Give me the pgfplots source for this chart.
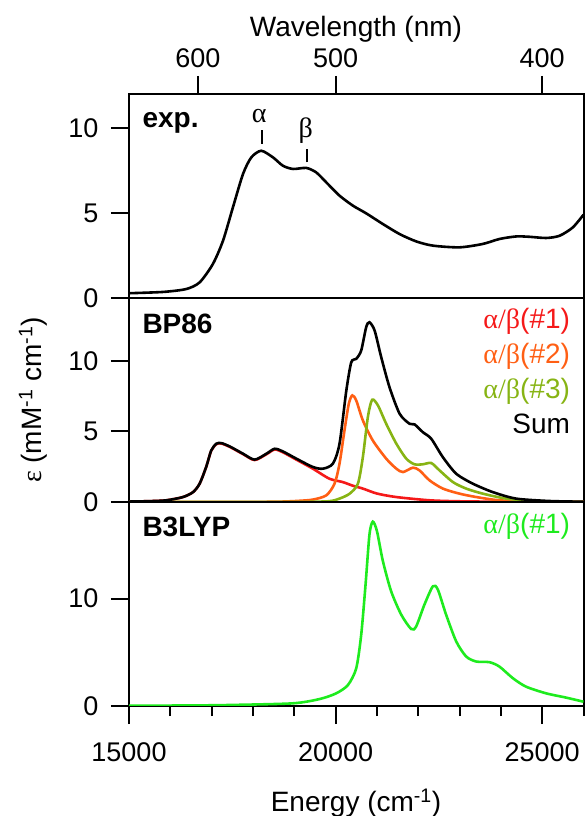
\documentclass[border=0pt]{standalone}
\usepackage{fontspec}
\setmainfont{Liberation Sans}
\newfontfamily\grk{Liberation Serif}
\usepackage{pgfplots}
\usepackage{pgfplotstable}
\pgfplotsset{compat=1.18}

\definecolor{cred}{RGB}{245,25,25}
\definecolor{corange}{RGB}{255,95,20}
\definecolor{colive}{RGB}{135,180,20}
\definecolor{cgreen}{RGB}{30,235,30}

\newcommand\tfs{\fontsize{27bp}{32bp}\selectfont}
\newcommand\lfs{\fontsize{28bp}{33bp}\selectfont}

\pgfplotstableread{
E y
15000 0.28
15500 0.32
15900 0.37
16390 0.53
16710 0.92
17030 2.0
17275 3.37
17515 5.33
17760 7.3
17960 8.27
18200 8.66
18485 8.27
18725 7.78
18970 7.59
19290 7.65
19530 7.39
19775 6.8
20095 6.02
20420 5.43
20740 4.98
21145 4.35
21550 3.76
21950 3.33
22355 3.08
23000 2.98
23565 3.18
23965 3.47
24370 3.62
24690 3.6
25095 3.53
25420 3.66
25740 4.15
26000 4.9
}\expdata

\pgfplotstableread{
E y
15000 0.03
15500 0.06
15905 0.12
16305 0.35
16550 0.7
16710 1.3
16870 2.5
16990 3.65
17115 4.13
17235 4.17
17435 3.94
17760 3.42
18040 3.0
18325 3.42
18525 3.77
18725 3.58
19050 3.07
19450 2.48
19695 2.36
19935 2.72
20095 4.13
20260 7.9
20380 9.9
20500 10.14
20620 10.73
20740 12.38
20820 12.73
20945 12.14
21105 10.25
21305 8.13
21550 6.25
21790 5.54
21910 5.5
22110 4.95
22315 4.48
22595 3.18
22920 2.0
23320 1.3
23805 0.7
24370 0.24
25175 0.07
26000 0.02
}\sumdata

\pgfplotstableread{
E y
15000 0.03
15500 0.06
15905 0.12
16305 0.35
16550 0.7
16710 1.3
16870 2.5
16990 3.63
17115 4.1
17235 4.14
17435 3.91
17760 3.39
18040 2.97
18325 3.38
18525 3.72
18725 3.52
19050 3.0
19450 2.36
19850 1.65
20175 1.41
20420 1.15
20660 0.95
21000 0.6
21470 0.35
22275 0.12
23000 0.05
24000 0.02
26000 0.0
}\reddata

\pgfplotstableread{
E y
15000 0
16500 0
17500 0
18200 0.01
18700 0.03
19100 0.08
19450 0.17
19775 0.47
19975 1.3
20095 2.72
20215 5.07
20320 6.96
20405 7.55
20500 7.19
20660 5.78
20900 4.36
21225 3.07
21470 2.36
21630 2.12
21870 2.43
22030 2.24
22275 1.53
22595 0.95
23000 0.59
23405 0.35
23965 0.12
24800 0.03
25500 0.01
26000 0
}\orangedata

\pgfplotstableread{
E y
15000 0
17000 0
18500 0
19300 0.01
19855 0.06
20095 0.24
20340 0.59
20540 1.3
20660 3.18
20780 6.0
20885 7.24
21025 6.84
21225 5.54
21470 4.13
21710 3.07
21910 2.67
22110 2.67
22315 2.76
22515 2.24
22840 1.41
23160 0.95
23565 0.59
24130 0.24
24800 0.07
25500 0.02
26000 0
}\olivedata

\pgfplotstableread{
E y
15000 0.03
16500 0.05
17515 0.1
18970 0.25
19615 0.65
20015 1.18
20300 1.96
20500 3.52
20620 6.64
20725 11.3
20820 15.98
20900 17.17
21000 16.3
21145 13.49
21345 10.68
21590 8.5
21830 7.17
21950 7.41
22150 9.44
22355 11.15
22475 10.84
22675 8.5
22920 6.01
23160 4.61
23405 4.14
23725 4.08
23965 3.67
24290 2.59
24610 1.8
25095 1.18
25580 0.78
26000 0.4
}\greendata

\pgfplotsset{
  panel/.style={
    scale only axis, width=454.5bp, height=204bp,
    xmin=15000, xmax=26000, ymin=0,
    axis line style={line width=2bp},
    every tick/.style={line width=2bp, black},
    major tick length=18bp, minor tick length=10bp,
    tick align=outside, ytick pos=left,
    tick label style={font=\tfs},
    yticklabel shift=9bp,
    scaled x ticks=false, scaled y ticks=false,
    /pgf/number format/assume math mode=true,
    /pgf/number format/1000 sep={},
    anchor=south west,
  },
  curve/.style={line width=2.6bp, smooth, tension=0.45, no markers},
}

\begin{document}
\begin{tikzpicture}
\useasboundingbox (0bp,0bp) rectangle (586bp,816bp);

% top panel: experiment
\begin{axis}[panel, at={(129bp,518bp)}, ymax=12, ytick={0,5,10},
  xtick={16666.67,20000,25000}, xticklabels={600,500,400},
  xtick pos=right, xticklabel pos=right,
  xticklabel shift=5bp]
\addplot[curve, black] table[x=E,y=y] {\expdata};
\draw[line width=2bp] (axis cs:18217,9.06) -- (axis cs:18217,9.88);
\draw[line width=2bp] (axis cs:19305,7.98) -- (axis cs:19305,8.76);
\node[font=\lfs\grk] at (axis cs:18150,10.72) {α};
\node[font=\lfs\grk] at (axis cs:19275,9.87) {β};
\node[anchor=base west, font=\lfs\bfseries] at ([xshift=10bp,yshift=-34bp]rel axis cs:0,1) {exp.};
\end{axis}

% middle panel: BP86
\begin{axis}[panel, at={(129bp,314bp)}, ymax=14.45, ytick={0,5,10}, xtick=\empty]
\addplot[curve, cred] table[x=E,y=y] {\reddata};
\addplot[curve, corange] table[x=E,y=y] {\orangedata};
\addplot[curve, colive] table[x=E,y=y] {\olivedata};
\addplot[curve, black] table[x=E,y=y] {\sumdata};
\node[anchor=base west, font=\lfs\bfseries] at ([xshift=10bp,yshift=-36bp]rel axis cs:0,1) {BP86};
\node[anchor=base east, font=\lfs, text=cred] at ([xshift=-10bp,yshift=-31bp]rel axis cs:1,1) {{\grk α/β}(\#1)};
\node[anchor=base east, font=\lfs, text=corange] at ([xshift=-10bp,yshift=-66bp]rel axis cs:1,1) {{\grk α/β}(\#2)};
\node[anchor=base east, font=\lfs, text=colive] at ([xshift=-10bp,yshift=-101bp]rel axis cs:1,1) {{\grk α/β}(\#3)};
\node[anchor=base east, font=\lfs, text=black] at ([xshift=-10bp,yshift=-136bp]rel axis cs:1,1) {Sum};
\end{axis}

% bottom panel: B3LYP
\begin{axis}[panel, at={(129bp,110bp)}, ymax=19, ytick={0,10},
  xtick={15000,20000,25000}, minor xtick={16000,17000,18000,19000,21000,22000,23000,24000,26000},
  xtick pos=left, xticklabel pos=left,
  xticklabel shift=15bp]
\addplot[curve, cgreen] table[x=E,y=y] {\greendata};
\node[anchor=base west, font=\lfs\bfseries] at ([xshift=10bp,yshift=-35bp]rel axis cs:0,1) {B3LYP};
\node[anchor=base east, font=\lfs, text=cgreen] at ([xshift=-10bp,yshift=-32bp]rel axis cs:1,1) {{\grk α/β}(\#1)};
\end{axis}

\node[font=\lfs, anchor=base] at (356bp,779bp) {Wavelength (nm)};
\node[font=\lfs, anchor=base] at (356bp,5bp) {Energy (cm\textsuperscript{-1})};
\node[rotate=90, font=\lfs] at (33bp,416bp) {{\grk ε} (mM\textsuperscript{-1} cm\textsuperscript{-1})};
\end{tikzpicture}
\end{document}
